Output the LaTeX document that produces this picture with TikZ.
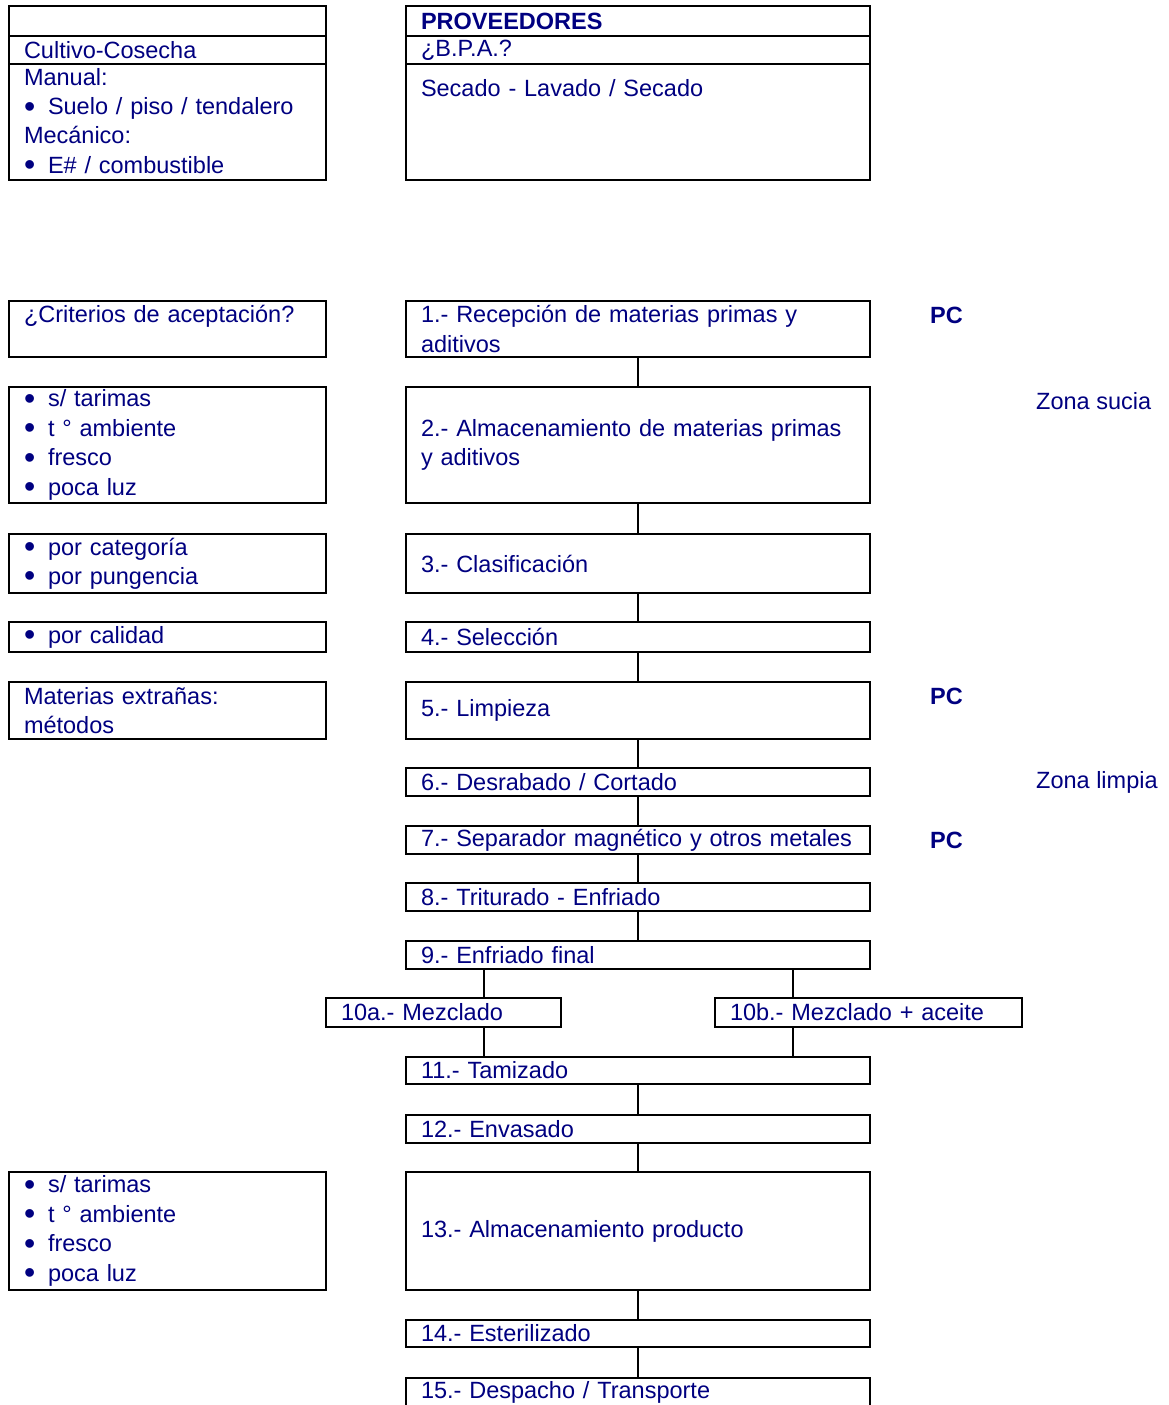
\documentclass[tikz,border=0pt]{standalone}
\usepackage{fontspec}
\setmainfont{Liberation Sans}
\usepackage{xcolor}
\definecolor{azul}{RGB}{0,0,128}
\newcommand{\vineta}[1]{\makebox[24pt][l]{\raisebox{-2.5pt}{\fontsize{32}{29}\selectfont\textbullet}}#1}
\usetikzlibrary{positioning}

\begin{document}
\begin{tikzpicture}[x=1pt,y=-1pt,
 every node/.style={font=\fontsize{23.5}{29.4}\selectfont,text=azul},
 caja/.style={draw=black,line width=1.8pt,anchor=north west,outer sep=0pt,
   inner xsep=15pt,inner ysep=0pt,align=left},
 centro/.style={caja,text width=434pt},
 izq/.style={caja,text width=287pt},
 mezcla/.style={caja,text width=#1},
 alto/.style={minimum height=#1},
 nota/.style={anchor=west,inner sep=0pt},
 pc/.style={nota,font=\fontsize{23.5}{29.4}\selectfont\bfseries},
 linea/.style={line width=1.8pt}]
 \useasboundingbox (0,0) rectangle (1168,1405);

 \node[izq,alto=30pt] (cul1) at (9,6) {};
 \node[izq,alto=28pt] (cul2) at (9,36) {Cultivo-Cosecha};
 \node[izq,alto=116pt] (cul3) at (9,64) {Manual:\\ \vineta{Suelo / piso / tendalero}\\
   Mecánico:\\ \vineta{E\# / combustible}};

 \node[centro,alto=30pt] (prov1) at (406,6) {\textbf{PROVEEDORES}};
 \node[centro,alto=28pt] (prov2) at (406,36) {¿B.P.A.?};
 \node[centro,alto=116pt] (prov3) at (406,64) {Secado - Lavado / Secado\\[39pt]\mbox{}};

 \node[izq,alto=56pt] (c1) at (9,301) {¿Criterios de aceptación?\\ \mbox{}};
 \node[izq,alto=116pt] (c2) at (9,387) {\vineta{s/ tarimas}\\ \vineta{t ° ambiente}\\
   \vineta{fresco}\\ \vineta{poca luz}};
 \node[izq,alto=59pt] (c3) at (9,534) {\vineta{por categoría}\\ \vineta{por pungencia}};
 \node[izq,alto=30pt] (c4) at (9,622) {\vineta{por calidad}};
 \node[izq,alto=57pt] (c5) at (9,682) {Materias extrañas:\\ métodos};
 \node[izq,alto=118pt] (c13) at (9,1172) {\vineta{s/ tarimas}\\ \vineta{t ° ambiente}\\
   \vineta{fresco}\\ \vineta{poca luz}};

 \node[centro,alto=56pt] (p1) at (406,301) {1.- Recepción de materias primas y\\ aditivos};
 \node[centro,alto=116pt] (p2) at (406,387) {2.- Almacenamiento de materias primas\\ y aditivos};
 \node[centro,alto=59pt] (p3) at (406,534) {3.- Clasificación};
 \node[centro,alto=30pt] (p4) at (406,622) {4.- Selección};
 \node[centro,alto=57pt] (p5) at (406,682) {5.- Limpieza};
 \node[centro,alto=28pt] (p6) at (406,768) {6.- Desrabado / Cortado};
 \node[centro,alto=28pt] (p7) at (406,826) {\mbox{7.- Separador magnético y otros metales}};
 \node[centro,alto=28pt] (p8) at (406,883) {8.- Triturado - Enfriado};
 \node[centro,alto=28pt] (p9) at (406,941) {9.- Enfriado final};
 \node[mezcla=205pt,alto=29pt] (p10a) at (326,998) {10a.- Mezclado};
 \node[mezcla=277pt,alto=29pt] (p10b) at (715,998) {10b.- Mezclado + aceite};
 \node[centro,alto=27pt] (p11) at (406,1057) {11.- Tamizado};
 \node[centro,alto=28pt] (p12) at (406,1115) {12.- Envasado};
 \node[centro,alto=118pt] (p13) at (406,1172) {13.- Almacenamiento producto};
 \node[centro,alto=27pt] (p14) at (406,1320) {14.- Esterilizado};
 \node[centro,alto=29pt] (p15) at (406,1378) {15.- Despacho / Transporte};

 \node[pc] (pc1) at (930,315) {PC};
 \node[pc] (pc5) at (930,696) {PC};
 \node[pc] (pc7) at (930,840) {PC};
 \node[nota] (sucia) at (1036,401) {Zona sucia};
 \node[nota] (limpia) at (1036,782) {Zona limpia};

 \draw[linea] (p1) -- (p2) (p2) -- (p3) (p3) -- (p4) (p4) -- (p5) (p5) -- (p6)
   (p6) -- (p7) (p7) -- (p8) (p8) -- (p9);
 \draw[linea] ([xshift=40.5pt]p10a.north) -- ([xshift=40.5pt]p10a.north |- p9.south);
 \draw[linea] ([xshift=40.5pt]p10a.south) -- ([xshift=40.5pt]p10a.south |- p11.north);
 \draw[linea] ([xshift=-75.5pt]p10b.north) -- ([xshift=-75.5pt]p10b.north |- p9.south);
 \draw[linea] ([xshift=-75.5pt]p10b.south) -- ([xshift=-75.5pt]p10b.south |- p11.north);
 \draw[linea] (p11) -- (p12) (p12) -- (p13) (p13) -- (p14) (p14) -- (p15);
\end{tikzpicture}
\end{document}
